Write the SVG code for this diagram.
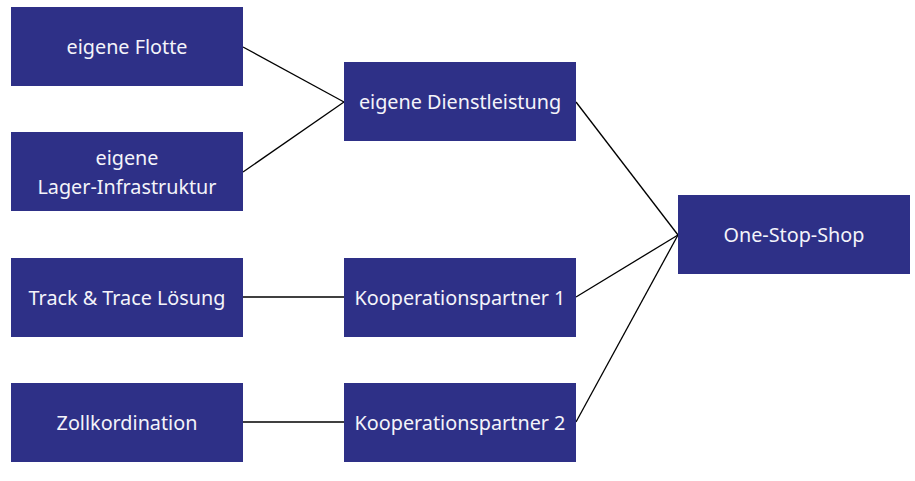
<svg xmlns="http://www.w3.org/2000/svg" width="915" height="481" viewBox="0 0 915 481">
<style>
.box{fill:#2e3087}
.t{font-family:"Noto Sans","Open Sans",sans-serif;font-size:19.8px;fill:#f4f4fa;text-anchor:middle}
.c{stroke:#000;stroke-width:1.3;fill:none}
</style>
<rect width="915" height="481" fill="#fff"/>
<g id="connectors">
<line class="c" x1="243" y1="47" x2="344" y2="102"/>
<line class="c" x1="243" y1="172" x2="344" y2="102"/>
<line class="c" x1="576" y1="102" x2="678" y2="235"/>
<line class="c" x1="576" y1="297" x2="678" y2="235"/>
<line class="c" x1="576" y1="422" x2="678" y2="235"/>
<line class="c" x1="243" y1="297" x2="344" y2="297"/>
<line class="c" x1="243" y1="422" x2="344" y2="422"/>
</g>
<g id="flotte"><rect class="box" x="11" y="7" width="232" height="79"/><text class="t" x="127" y="54">eigene Flotte</text></g>
<g id="lager"><rect class="box" x="11" y="132" width="232" height="79"/><text class="t" x="127" y="165">eigene</text><text class="t" x="127" y="194">Lager-Infrastruktur</text></g>
<g id="track"><rect class="box" x="11" y="258" width="232" height="79"/><text class="t" x="127" y="305">Track &amp; Trace Lösung</text></g>
<g id="zoll"><rect class="box" x="11" y="383" width="232" height="79"/><text class="t" x="127" y="430">Zollkordination</text></g>
<g id="dienst"><rect class="box" x="344" y="62" width="232" height="79"/><text class="t" x="460" y="109">eigene Dienstleistung</text></g>
<g id="koop1"><rect class="box" x="344" y="258" width="232" height="79"/><text class="t" x="460" y="305">Kooperationspartner 1</text></g>
<g id="koop2"><rect class="box" x="344" y="383" width="232" height="79"/><text class="t" x="460" y="430">Kooperationspartner 2</text></g>
<g id="oss"><rect class="box" x="678" y="195" width="232" height="79"/><text class="t" x="794" y="242">One-Stop-Shop</text></g>
</svg>
